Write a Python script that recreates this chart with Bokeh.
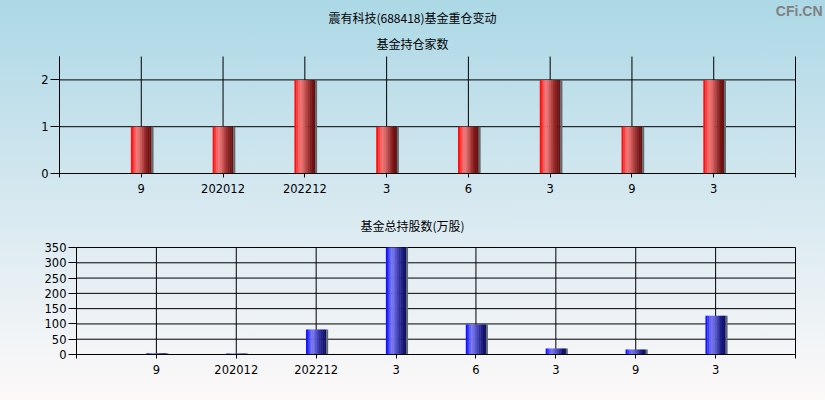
from bokeh.plotting import figure
from bokeh.layouts import column
from bokeh.models import FixedTicker, Label
from bokeh.embed import file_html
from bokeh.resources import INLINE

# ---------------- data ----------------
title_main = "震有科技(688418)基金重仓变动"
title_top = "基金持仓家数"
title_bottom = "基金总持股数(万股)"
watermark = "CFi.CN"
categories = ["9", "202012", "202212", "3", "6", "3", "9", "3"]
fund_counts = [1, 1, 2, 1, 1, 2, 1, 2]
fund_shares = [4, 3.5, 82, 350, 98, 20, 16, 127]
count_ticks = [0, 1, 2]
count_axis_max = 2.5
share_ticks = [0, 50, 100, 150, 200, 250, 300, 350]
share_axis_max = 350

# ---------------- style / layout ----------------
W = 825
H1, H2 = 208, 192
FONT = "DejaVu Sans"
CJK = "Noto Sans CJK SC"
RED = ["#ff1010", "#fa3c3c", "#f46464", "#ee7474", "#e06a6a", "#cc5858",
       "#b44444", "#9c3030", "#882020", "#761414", "#6a1010"]
BLUE = ["#1414ff", "#3c3cfa", "#6464f4", "#7474ee", "#6a6ae0", "#5858cc",
        "#4444b4", "#30309c", "#202088", "#141476", "#10106a"]
SHADOW = "#5f6a6e"

n_slots = len(categories) + 1
xs = [i + 1 for i in range(len(categories))]
x_ticks = list(range(0, n_slots + 1))
overrides = {t: "" for t in x_ticks}
for x, c in zip(xs, categories):
    overrides[x] = c

# plot boxes (pixels in each figure): left, right-of-data, top-of-data, bottom
P1 = dict(left=59, right=795, top=56, bottom=173)
P2 = dict(left=76, right=795, top=247 - H1, bottom=354 - H1)


def make_fig(height, box, yticks, ymax, ytick_out):
    frame_w = W - box["left"]
    data_w = box["right"] - box["left"]
    frame_h = box["bottom"]
    data_h = box["bottom"] - box["top"]
    p = figure(width=W, height=height, output_backend="svg", toolbar_location=None,
               x_range=(0, n_slots * frame_w / data_w),
               y_range=(0, ymax * frame_h / data_h),
               min_border_left=box["left"], min_border_right=0,
               min_border_top=0, min_border_bottom=height - box["bottom"])
    if "frame_align" in p.properties():
        p.frame_align = False
    p.background_fill_color = None
    p.border_fill_color = None
    p.outline_line_color = None
    p.xaxis.ticker = FixedTicker(ticks=x_ticks)
    p.xaxis.major_label_overrides = overrides
    p.xaxis.bounds = (0, n_slots)
    p.yaxis.ticker = FixedTicker(ticks=yticks)
    p.yaxis.bounds = (0, ymax)
    for ax in (p.xaxis, p.yaxis):
        ax.axis_line_color = "black"
        ax.major_tick_line_color = "black"
        ax.minor_tick_line_color = None
        ax.major_tick_in = 0
        ax.major_label_text_font = FONT
        ax.major_label_text_font_size = "11.5px"
        ax.major_label_text_color = "black"
    p.xaxis.major_tick_out = 4
    p.xaxis.major_label_standoff = 6
    p.yaxis.major_tick_out = ytick_out
    p.yaxis.major_label_standoff = 2
    p.xgrid.visible = False
    p.ygrid.visible = False
    # grid lines, limited to the data area
    p.segment(x0=x_ticks, x1=x_ticks, y0=[0] * len(x_ticks), y1=[ymax] * len(x_ticks),
              line_color="black", line_width=1)
    p.segment(x0=[0] * len(yticks), x1=[n_slots] * len(yticks), y0=yticks, y1=yticks,
              line_color="black", line_width=1)
    return p


def gradient_bars(p, vals, width, colors, shadow_w):
    n = len(colors)
    step = width / n
    for k, c in enumerate(colors):
        off = -width / 2 + step * (k + 0.5)
        p.vbar(x=[x + off for x in xs], top=vals, bottom=0, width=step * 1.2,
               fill_color=c, line_color=None)
    p.vbar(x=[x + width / 2 + shadow_w / 2 for x in xs], top=vals, bottom=0,
           width=shadow_w, fill_color=SHADOW, line_color=None)


def add_text(p, box, text, cx, cy, size="12px", font=CJK, color="black",
             align="center", bold=False):
    # cx, cy: pixel position in the figure (from top-left)
    p.add_layout(Label(x=cx - box["left"], y=box["bottom"] - cy,
                       x_units="screen", y_units="screen", text=text,
                       text_font=font, text_font_size=size, text_color=color,
                       text_align=align, text_baseline="middle",
                       text_font_style="bold" if bold else "normal"))


# ---------------- top chart ----------------
p1 = make_fig(H1, P1, count_ticks, count_axis_max, 9)
gradient_bars(p1, fund_counts, 0.25, RED, 0.025)
add_text(p1, P1, title_main, 412, 17)
add_text(p1, P1, title_top, 412, 43)
add_text(p1, P1, watermark, 822, 10, size="14px", font="Liberation Sans",
         color="#808080", align="right", bold=True)

# ---------------- bottom chart ----------------
p2 = make_fig(H2, P2, share_ticks, share_axis_max, 8)
gradient_bars(p2, fund_shares, 0.25, BLUE, 0.025)
add_text(p2, P2, title_bottom, 412, 225 - H1)

layout = column(p1, p2, spacing=0,
                styles={"background": "linear-gradient(to bottom, #acd8e6 0%, #d6e8f0 50%, #fdf9f9 100%)"})

open("out.html", "w").write(file_html(layout, INLINE))
